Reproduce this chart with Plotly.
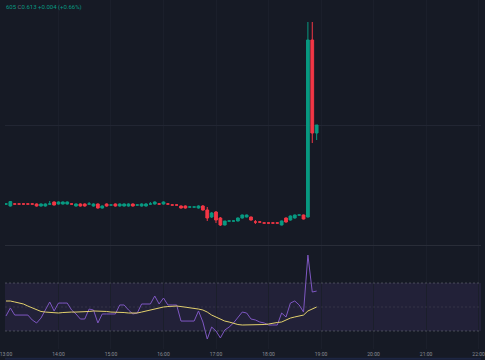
import pandas as pd
import plotly.graph_objects as go

# ---- data (5-minute candles from 13:00) ----
start_time = "2024-03-01 13:00"
n_candles = 72

opens = [0.5735, 0.5725, 0.5735, 0.5735, 0.5735, 0.5735, 0.5735, 0.5735, 0.5725, 0.5725,
         0.5735, 0.5745, 0.5735, 0.5735, 0.5735, 0.5735, 0.5725, 0.5735, 0.5735, 0.5735,
         0.5725, 0.5735, 0.5715, 0.5735, 0.5730, 0.5735, 0.5725, 0.5725, 0.5725, 0.5735,
         0.5730, 0.5725, 0.5725, 0.5735, 0.5735, 0.5735, 0.5735, 0.5735, 0.5730, 0.5730,
         0.5725, 0.5725, 0.5720, 0.5720, 0.5715, 0.5725, 0.5705, 0.5670, 0.5695, 0.5665,
         0.5630, 0.5650, 0.5650, 0.5650, 0.5665, 0.5670, 0.5670, 0.5645, 0.5645, 0.5640,
         0.5640, 0.5640, 0.5640, 0.5630, 0.5665, 0.5655, 0.5665, 0.5680, 0.5680, 0.5670,
         0.6555, 0.6090]
highs = [0.5740, 0.5750, 0.57375, 0.57375, 0.57375, 0.57375, 0.57375, 0.5738, 0.5738, 0.5738,
         0.5750, 0.5748, 0.5748, 0.5748, 0.5748, 0.57375, 0.5738, 0.5738, 0.5738, 0.5745,
         0.5738, 0.5738, 0.5728, 0.5738, 0.57325, 0.5738, 0.5738, 0.5738, 0.5738, 0.5738,
         0.57325, 0.5738, 0.5740, 0.5745, 0.5748, 0.57375, 0.5748, 0.5740, 0.57325, 0.57325,
         0.5728, 0.5728, 0.57225, 0.57225, 0.5728, 0.5730, 0.5720, 0.5695, 0.5700, 0.5670,
         0.5650, 0.56525, 0.56525, 0.5668, 0.5682, 0.5682, 0.5672, 0.5655, 0.56475, 0.56425,
         0.56425, 0.56425, 0.56425, 0.5652, 0.5668, 0.5678, 0.5682, 0.56825, 0.5682, 0.6645,
         0.6645, 0.6130]
lows = [0.5730, 0.57225, 0.57325, 0.57325, 0.57325, 0.57325, 0.57325, 0.5722, 0.5722, 0.5722,
        0.5732, 0.5728, 0.5732, 0.5732, 0.5732, 0.57325, 0.5722, 0.5722, 0.5722, 0.5732,
        0.5722, 0.5712, 0.5712, 0.5722, 0.57275, 0.5722, 0.5722, 0.5722, 0.5722, 0.5722,
        0.57275, 0.5722, 0.5722, 0.5732, 0.5732, 0.57325, 0.5732, 0.5732, 0.57275, 0.57275,
        0.5712, 0.5712, 0.57175, 0.57175, 0.5712, 0.5702, 0.5650, 0.5665, 0.5640, 0.5625,
        0.5628, 0.56475, 0.56475, 0.5648, 0.5662, 0.5668, 0.5652, 0.5635, 0.56425, 0.56375,
        0.56375, 0.56375, 0.56375, 0.5628, 0.5642, 0.5652, 0.5662, 0.56775, 0.5658, 0.56675,
        0.6040, 0.6055]
closes = [0.5735, 0.5747, 0.5735, 0.5735, 0.5735, 0.5735, 0.5735, 0.5725, 0.5735, 0.5735,
          0.5735, 0.5730, 0.5745, 0.5745, 0.5745, 0.5735, 0.5735, 0.5725, 0.5725, 0.5735,
          0.5735, 0.5715, 0.5725, 0.5725, 0.5730, 0.5725, 0.5735, 0.5735, 0.5735, 0.5725,
          0.5730, 0.5735, 0.5735, 0.5735, 0.5745, 0.5735, 0.5745, 0.5735, 0.5730, 0.5730,
          0.5715, 0.5715, 0.5720, 0.5720, 0.5725, 0.5705, 0.5665, 0.5690, 0.5655, 0.5630,
          0.5650, 0.5650, 0.5650, 0.5665, 0.5680, 0.5680, 0.5655, 0.5645, 0.5645, 0.5640,
          0.5640, 0.5640, 0.5640, 0.5650, 0.5645, 0.5675, 0.5680, 0.5680, 0.5660, 0.6555,
          0.6090, 0.6130]

rsi = [42.5, 49.2, 43.3, 43.3, 43.3, 43.3, 39.2, 36.7, 40.8, 47.5,
       54.2, 46.7, 53.3, 53.3, 53.3, 47.5, 44.2, 40.0, 40.0, 48.3,
       47.5, 36.7, 44.2, 44.2, 44.2, 44.2, 51.7, 51.7, 47.5, 44.2,
       45.0, 52.5, 52.5, 52.5, 59.2, 52.5, 57.5, 51.7, 51.7, 51.7,
       38.3, 38.3, 38.3, 38.3, 46.7, 37.5, 23.3, 33.3, 30.0, 24.2,
       30.8, 33.3, 36.7, 41.7, 45.8, 45.0, 40.0, 39.2, 37.5, 36.7,
       35.0, 35.0, 35.0, 45.0, 41.7, 53.3, 55.0, 51.7, 45.8, 93.3,
       62.5, 63.3]
rsi_ma = [55.0, 55.0, 54.2, 53.3, 52.5, 50.8, 49.2, 47.5, 46.3, 45.8,
          45.4, 45.0, 45.0, 45.4, 45.8, 45.8, 45.8, 45.8, 45.8, 46.3,
          46.7, 46.7, 46.7, 46.3, 45.8, 45.8, 45.8, 45.4, 45.0, 45.0,
          45.0, 45.8, 46.7, 47.5, 48.3, 49.2, 50.0, 50.4, 50.8, 50.8,
          50.4, 50.0, 49.2, 48.8, 48.3, 47.5, 45.8, 43.3, 41.7, 40.0,
          38.3, 37.5, 36.3, 35.4, 35.0, 35.0, 35.0, 35.0, 35.0, 35.4,
          35.8, 36.7, 37.1, 37.5, 39.2, 40.8, 41.7, 42.5, 43.3, 46.7,
          48.3, 50.0]

rsi_upper, rsi_mid, rsi_lower = 70, 50, 30
price_grid = [0.613]
legend_text = "605 <span style='color:#6b6f7a'>C</span>0.613 +0.004 (+0.66%)"

times = pd.date_range(start_time, periods=n_candles, freq="5min")

BG = "#161a25"
UP = "#089981"
DOWN = "#f23645"

fig = go.Figure()
fig.add_trace(go.Candlestick(
    x=times, open=opens, high=highs, low=lows, close=closes,
    increasing=dict(line=dict(color=UP, width=1), fillcolor=UP),
    decreasing=dict(line=dict(color=DOWN, width=1), fillcolor=DOWN),
    whiskerwidth=0, xaxis="x", yaxis="y", showlegend=False, hoverinfo="skip"))
fig.add_trace(go.Scatter(x=times, y=rsi, mode="lines", line=dict(color="#7e57c2", width=1),
                         xaxis="x2", yaxis="y2", showlegend=False, hoverinfo="skip"))
fig.add_trace(go.Scatter(x=times, y=rsi_ma, mode="lines", line=dict(color="#e3d16c", width=1),
                         xaxis="x2", yaxis="y2", showlegend=False, hoverinfo="skip"))

xr = ["2024-03-01 12:58:53", "2024-03-01 22:02:48"]
axis_font = dict(family="Roboto", size=5, color="#8a8d96")

fig.update_layout(
    width=485, height=360,
    margin=dict(l=0, r=0, t=0, b=11),
    paper_bgcolor=BG, plot_bgcolor=BG,
    boxgap=0.1,
    xaxis=dict(domain=[0, 1], anchor="y", range=xr, type="date", showticklabels=False,
               showgrid=True, gridcolor="#1b1f2b", dtick=3600000, tick0="2024-03-01 13:00",
               zeroline=False, rangeslider=dict(visible=False), showline=False, ticks=""),
    xaxis2=dict(domain=[0, 1], anchor="y2", range=xr, type="date", matches="x",
                showgrid=True, gridcolor="#1b1f2b", dtick=3600000, tick0="2024-03-01 13:00",
                tickformat="%H:%M", tickfont=axis_font, ticks="", zeroline=False, showline=False,
                ticklabeloverflow="allow", ticklabelstandoff=1),
    yaxis=dict(domain=[0.298, 1], anchor="x", range=[0.553, 0.6755], tickvals=price_grid,
               showticklabels=False, showgrid=True, gridcolor="#222633", zeroline=False),
    yaxis2=dict(domain=[0, 0.295], anchor="x2", range=[15, 100.83], showticklabels=False,
                showgrid=False, zeroline=False),
    shapes=[
        dict(type="rect", xref="paper", yref="y2", x0=0, x1=1, y0=rsi_lower, y1=rsi_upper,
             fillcolor="rgba(126,87,194,0.12)", line=dict(width=0), layer="below"),
        dict(type="line", xref="paper", yref="y2", x0=0, x1=1, y0=rsi_upper, y1=rsi_upper,
             line=dict(color="rgba(120,123,134,0.5)", width=1, dash="2px,2px")),
        dict(type="line", xref="paper", yref="y2", x0=0, x1=1, y0=rsi_lower, y1=rsi_lower,
             line=dict(color="rgba(120,123,134,0.5)", width=1, dash="2px,2px")),
        dict(type="line", xref="paper", yref="y2", x0=0, x1=1, y0=rsi_mid, y1=rsi_mid,
             line=dict(color="rgba(120,123,134,0.22)", width=1, dash="2px,2px")),
        dict(type="line", xref="paper", yref="paper", x0=0, x1=1, y0=0.2965, y1=0.2965,
             line=dict(color="#2a2e39", width=1)),
        dict(type="line", xref="paper", yref="paper", x0=0, x1=1, y0=-0.028, y1=-0.028,
             line=dict(color="#1c2542", width=2)),
    ],
    annotations=[dict(xref="paper", yref="paper", x=0, y=1, xanchor="left", yanchor="top",
                      xshift=-1, yshift=-1, text=legend_text, showarrow=False,
                      font=dict(family="Roboto", size=6, color=UP))],
)

fig.write_html("out.html", config={"displayModeBar": False},
               post_script="document.body.style.margin='0';document.body.style.overflow='hidden';document.body.style.background='" + BG + "';")
